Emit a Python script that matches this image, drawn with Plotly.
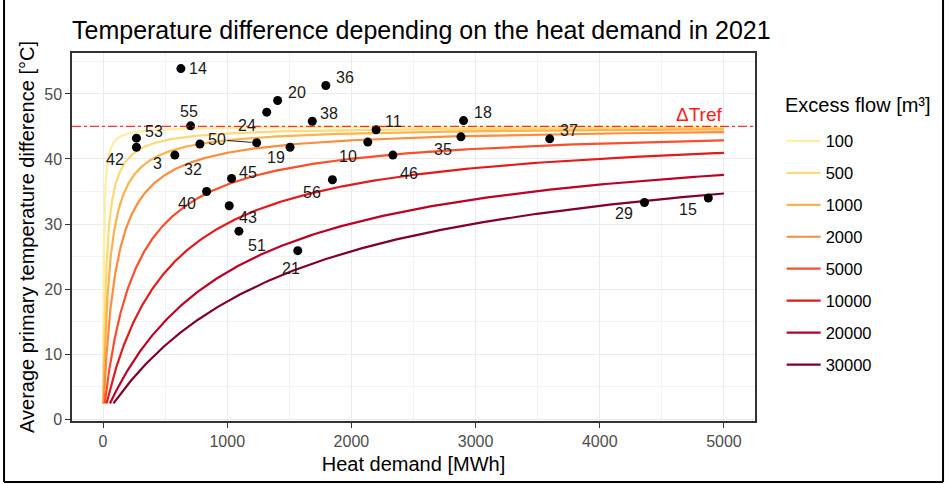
import numpy as np
import plotly.graph_objects as go

# Substations measured in 2021: id, annual heat demand [MWh], mean primary ΔT [°C]
station_ids = ["14", "36", "20", "24", "50", "38", "55", "53", "42", "3", "32", "19", "45",
               "40", "43", "51", "21", "56", "10", "11", "46", "18", "35", "37", "29", "15"]
heat_demand = [627, 1794, 1406, 1318, 1237, 1685, 705, 269, 269, 578, 780, 1506, 1035,
               834, 1016, 1094, 1568, 1847, 2132, 2199, 2334, 2903, 2882, 3597, 4360, 4874]
temp_diff = [53.9, 51.3, 49.0, 47.2, 42.5, 45.8, 45.1, 43.2, 41.8, 40.6, 42.3, 41.8, 37.0,
             35.0, 32.8, 28.9, 25.9, 36.8, 42.6, 44.5, 40.6, 45.9, 43.4, 43.1, 33.3, 34.0]

# Model curves: excess (bypass) flow volumes [m³]
excess_flows = [100, 500, 1000, 2000, 5000, 10000, 20000, 30000]
flow_colors = ["#FFEDA0", "#FED976", "#FEB24C", "#FD8D3C",
               "#FC4E2A", "#E31A1C", "#BD0026", "#800026"]

x_ticks = [0, 1000, 2000, 3000, 4000, 5000]
y_ticks = [0, 10, 20, 30, 40, 50]

DT_REF = 45.0        # design temperature difference [K]
DT_EXCESS = 2.4      # temperature difference carried by the excess flow [K]
CP_WATER = 1.163e-3  # volumetric heat capacity of water [MWh/(m³·K)]
Q_MAX = 5000.0

# label placement (pixel offsets from the point, y downwards)
label_offsets = {
    "14": (17, 0), "36": (19, -8), "20": (19, -8), "24": (-20, 13), "38": (17, -8),
    "55": (-2, -14), "53": (18, -7), "42": (-21, 12), "3": (-17, 8), "32": (-7, 25),
    "19": (-14, 10), "45": (16, -6), "40": (-20, 12), "43": (19, 12), "51": (18, 14),
    "21": (-7, 18), "56": (-20, 13), "10": (-20, 14), "11": (17, -8), "46": (16, 18),
    "18": (19, -8), "35": (-18, 13), "37": (19, -8), "29": (-20, 11), "15": (-20, 12),
}
arrow_labels = {"50": (-40, -3)}

FONT = "Liberation Sans, Arial, sans-serif"


def mixed_delta_t(q, volume):
    """Average ΔT when design flow at DT_REF mixes with an excess flow at DT_EXCESS."""
    e = q / CP_WATER
    return DT_REF * e / (e + volume * (DT_REF - DT_EXCESS))


fig = go.Figure()

for vol, col in zip(excess_flows, flow_colors):
    q_min = CP_WATER * vol * DT_EXCESS
    q = q_min + (Q_MAX - q_min) * np.linspace(0, 1, 700) ** 2
    fig.add_trace(go.Scatter(
        x=q, y=mixed_delta_t(q, vol), mode="lines", name=str(vol),
        legendgroup=str(vol),
        line=dict(color=col, width=2.2), hoverinfo="skip",
    ))

fig.add_trace(go.Scatter(
    x=heat_demand, y=temp_diff, mode="markers", showlegend=False,
    marker=dict(color="black", size=9), text=station_ids,
))

# ΔTref reference line
fig.add_shape(type="line", xref="paper", x0=0, x1=1, yref="y", y0=DT_REF, y1=DT_REF,
              line=dict(color="rgba(255,0,0,0.8)", width=1.3, dash="dashdot"), layer="above")
fig.add_annotation(x=Q_MAX, y=DT_REF, text="ΔTref", showarrow=False,
                   xanchor="right", yanchor="bottom", yshift=-1,
                   font=dict(family=FONT, size=19, color="#FF1A1A"))

for sid, qx, ty in zip(station_ids, heat_demand, temp_diff):
    if sid in arrow_labels:
        ax, ay = arrow_labels[sid]
        fig.add_annotation(x=qx, y=ty, text=sid, showarrow=True, arrowhead=0,
                           arrowwidth=1, arrowcolor="#222222", ax=ax, ay=ay, standoff=5,
                           font=dict(family=FONT, size=16, color="#1A1A1A"))
    else:
        dx, dy = label_offsets[sid]
        fig.add_annotation(x=qx, y=ty, text=sid, showarrow=False,
                           xshift=dx, yshift=-dy,
                           font=dict(family=FONT, size=16, color="#1A1A1A"))

# legend heading
fig.add_annotation(xref="paper", yref="paper", x=1.041, y=0.8587, text="Excess flow [m³]",
                   showarrow=False, xanchor="left", yanchor="middle",
                   font=dict(family=FONT, size=20, color="black"))

# outer frame of the figure
for x0, y0, x1, y1 in [(-0.0995, -0.166, -0.0995, 1.2), (1.2753, -0.166, 1.2753, 1.2),
                       (-0.0995, -0.166, 1.2753, -0.166)]:
    fig.add_shape(type="line", xref="paper", yref="paper", x0=x0, y0=y0, x1=x1, y1=y1,
                  line=dict(color="black", width=2))

axis_common = dict(
    showline=True, mirror=True, linecolor="#333333", linewidth=1.5,
    ticks="outside", ticklen=5, tickcolor="#333333", tickwidth=1.3,
    showgrid=True, gridcolor="#EBEBEB", gridwidth=1.2, zeroline=False,
    tickfont=dict(family=FONT, size=16, color="#4D4D4D"),
)

fig.update_xaxes(
    range=[-250, 5250], tickvals=x_ticks, ticktext=[str(v) for v in x_ticks],
    title=dict(text="Heat demand [MWh]", font=dict(family=FONT, size=20, color="black"),
               standoff=8),
    minor=dict(dtick=500, tick0=0, showgrid=True, gridcolor="#F2F2F2", gridwidth=0.8),
    **axis_common,
)
fig.update_yaxes(
    range=[-0.3, 56.3], tickvals=y_ticks, ticktext=[str(v) for v in y_ticks],
    title=dict(text="Average primary temperature difference [°C]",
               font=dict(family=FONT, size=20, color="black"), standoff=4),
    minor=dict(dtick=5, tick0=0, showgrid=True, gridcolor="#F2F2F2", gridwidth=0.8),
    **axis_common,
)

fig.update_layout(
    width=950, height=484,
    margin=dict(l=72, r=195, t=53, b=63),
    paper_bgcolor="white", plot_bgcolor="white",
    font=dict(family=FONT, color="black"),
    title=dict(text="Temperature difference depending on the heat demand in 2021",
               x=0, xref="paper", xanchor="left", y=0.938, yanchor="middle",
               font=dict(family=FONT, size=25, color="black")),
    legend=dict(
        font=dict(family=FONT, size=16.5, color="black"),
        x=1.039, xanchor="left", y=0.808, yanchor="top",
        tracegroupgap=7.5, itemwidth=34, bgcolor="rgba(0,0,0,0)",
    ),
    showlegend=True,
)

fig.write_html("out.html")
